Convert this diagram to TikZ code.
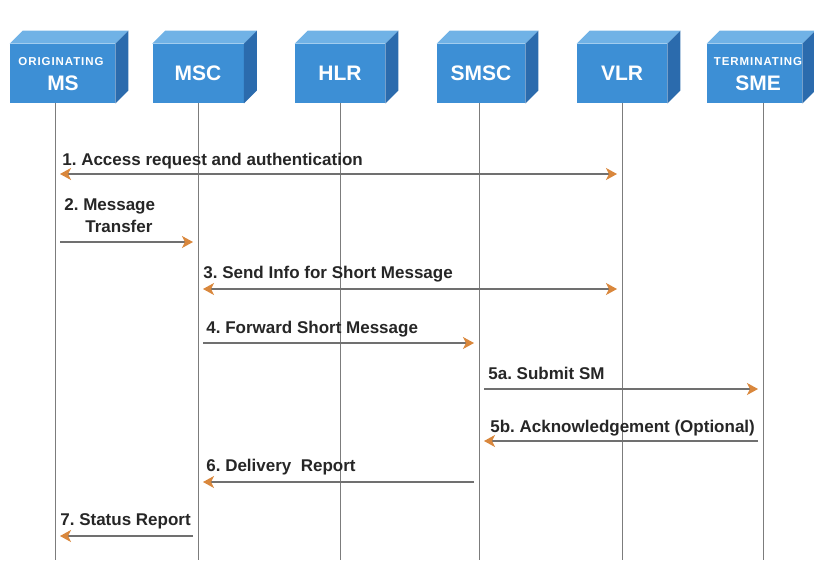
\documentclass[tikz,border=0pt]{standalone}
\usepackage{fontspec}
\setmainfont{Liberation Sans}
\usetikzlibrary{arrows.meta}
\frenchspacing

\definecolor{frontblue}{HTML}{3D8FD5}
\definecolor{topblue}{HTML}{70B2E6}
\definecolor{sideblue}{HTML}{2B6BAD}
\definecolor{tiporange}{HTML}{D9873C}
\definecolor{lifegray}{HTML}{7C7C7C}

\tikzset{every picture/.style={line width=0.75pt}}
\tikzset{
  box/.style={fill=frontblue, inner sep=0pt, text=white, font=\bfseries\fontsize{21}{24}\selectfont},
  boxsmall/.style={text=white, inner sep=0.75pt, font=\bfseries\fontsize{11.5}{13}\selectfont\addfontfeature{LetterSpace=8}},
  topface/.style={fill=topblue},
  sideface/.style={fill=sideblue},
  lifeline/.style={draw=lifegray, line width=1pt},
  msg/.style={draw=lifegray!90!black, line width=1.2pt, shorten <=5pt, shorten >=5pt,
    -{Stealth[length=11pt,width=12pt,inset=3pt,color=tiporange]}},
  dmsg/.style={msg, {Stealth[length=11pt,width=12pt,inset=3pt,color=tiporange]}-{Stealth[length=11pt,width=12pt,inset=3pt,color=tiporange]}},
  lbl/.style={anchor=base west, inner sep=0pt, text=black!85, font=\bfseries\fontsize{17}{19}\selectfont}
}

\begin{document}
\begin{tikzpicture}[x=1pt,y=1pt,yscale=-1,xscale=1]
\useasboundingbox (0,0) rectangle (814,560);

%Boxes (front faces)
\node [box, minimum width=105, minimum height=59] (ms) at (62.5,73.5) {};
\node [box, minimum width=91, minimum height=59] (msc) at (198,73.5) {MSC};
\node [box, minimum width=90, minimum height=59] (hlr) at (340,73.5) {HLR};
\node [box, minimum width=88, minimum height=59] (smsc) at (481,73.5) {SMSC};
\node [box, minimum width=90, minimum height=59] (vlr) at (622,73.5) {VLR};
\node [box, minimum width=95, minimum height=59] (sme) at (754.5,73.5) {};

%Box texts with two lines
\node [boxsmall] (msup) at (61,62) {ORIGINATING};
\node [box, fill=none] (mslow) at (63,83) {MS};
\node [boxsmall] (smeup) at (758,62) {TERMINATING};
\node [box, fill=none] (smelow) at (758,83) {SME};

%Top and side faces
\fill [topface] (ms.north west) -- ++(13,-13) -- ([shift={(13,-13)}]ms.north east) -- (ms.north east) -- cycle;
\fill [sideface] (ms.north east) -- ++(13,-13) -- ([shift={(13,-13)}]ms.south east) -- (ms.south east) -- cycle;
\fill [topface] (msc.north west) -- ++(13,-13) -- ([shift={(13,-13)}]msc.north east) -- (msc.north east) -- cycle;
\fill [sideface] (msc.north east) -- ++(13,-13) -- ([shift={(13,-13)}]msc.south east) -- (msc.south east) -- cycle;
\fill [topface] (hlr.north west) -- ++(13,-13) -- ([shift={(13,-13)}]hlr.north east) -- (hlr.north east) -- cycle;
\fill [sideface] (hlr.north east) -- ++(13,-13) -- ([shift={(13,-13)}]hlr.south east) -- (hlr.south east) -- cycle;
\fill [topface] (smsc.north west) -- ++(13,-13) -- ([shift={(13,-13)}]smsc.north east) -- (smsc.north east) -- cycle;
\fill [sideface] (smsc.north east) -- ++(13,-13) -- ([shift={(13,-13)}]smsc.south east) -- (smsc.south east) -- cycle;
\fill [topface] (vlr.north west) -- ++(13,-13) -- ([shift={(13,-13)}]vlr.north east) -- (vlr.north east) -- cycle;
\fill [sideface] (vlr.north east) -- ++(13,-13) -- ([shift={(13,-13)}]vlr.south east) -- (vlr.south east) -- cycle;
\fill [topface] (sme.north west) -- ++(13,-13) -- ([shift={(13,-13)}]sme.north east) -- (sme.north east) -- cycle;
\fill [sideface] (sme.north east) -- ++(13,-13) -- ([shift={(13,-13)}]sme.south east) -- (sme.south east) -- cycle;

%Lifelines
\coordinate (msL) at (55,103);   \coordinate (msB) at (55,560);
\coordinate (mscL) at (198,103); \coordinate (mscB) at (198,560);
\coordinate (hlrL) at (340,103); \coordinate (hlrB) at (340,560);
\coordinate (smscL) at (479,103); \coordinate (smscB) at (479,560);
\coordinate (vlrL) at (622,103); \coordinate (vlrB) at (622,560);
\coordinate (smeL) at (763,103); \coordinate (smeB) at (763,560);
\draw [lifeline] (msL) -- (msB);
\draw [lifeline] (mscL) -- (mscB);
\draw [lifeline] (hlrL) -- (hlrB);
\draw [lifeline] (smscL) -- (smscB);
\draw [lifeline] (vlrL) -- (vlrB);
\draw [lifeline] (smeL) -- (smeB);

%Message rows
\coordinate (r1) at (0,174);
\coordinate (r2) at (0,242);
\coordinate (r3) at (0,289);
\coordinate (r4) at (0,343);
\coordinate (r5) at (0,389);
\coordinate (r6) at (0,441);
\coordinate (r7) at (0,482);
\coordinate (r8) at (0,536);

%Messages
\draw [dmsg] (msL |- r1) -- (vlrL |- r1);
\draw [msg] (msL |- r2) -- (mscL |- r2);
\draw [dmsg] (mscL |- r3) -- (vlrL |- r3);
\draw [msg] (mscL |- r4) -- (smscL |- r4);
\draw [msg] (smscL |- r5) -- (smeL |- r5);
\draw [msg] (smeL |- r6) -- (smscL |- r6);
\draw [msg] (smscL |- r7) -- (mscL |- r7);
\draw [msg] (mscL |- r8) -- (msL |- r8);

% Text Nodes
\node [lbl] (t1) at (62,165) {1. Access request and authentication};
\node [lbl] (t2a) at (64,210) {2. Message};
\node [lbl] (t2b) at (85,232) {Transfer};
\node [lbl] (t3) at (203,278) {3. Send Info for Short Message};
\node [lbl] (t4) at (206,333) {4. Forward Short Message};
\node [lbl] (t5a) at (488,379) {5a. Submit SM};
\node [lbl] (t5b) at (490,432) {5b. Acknowledgement (Optional)};
\node [lbl] (t6) at (206,471) {6. Delivery\ \ Report};
\node [lbl] (t7) at (60,525) {7. Status Report};

\end{tikzpicture}
\end{document}
